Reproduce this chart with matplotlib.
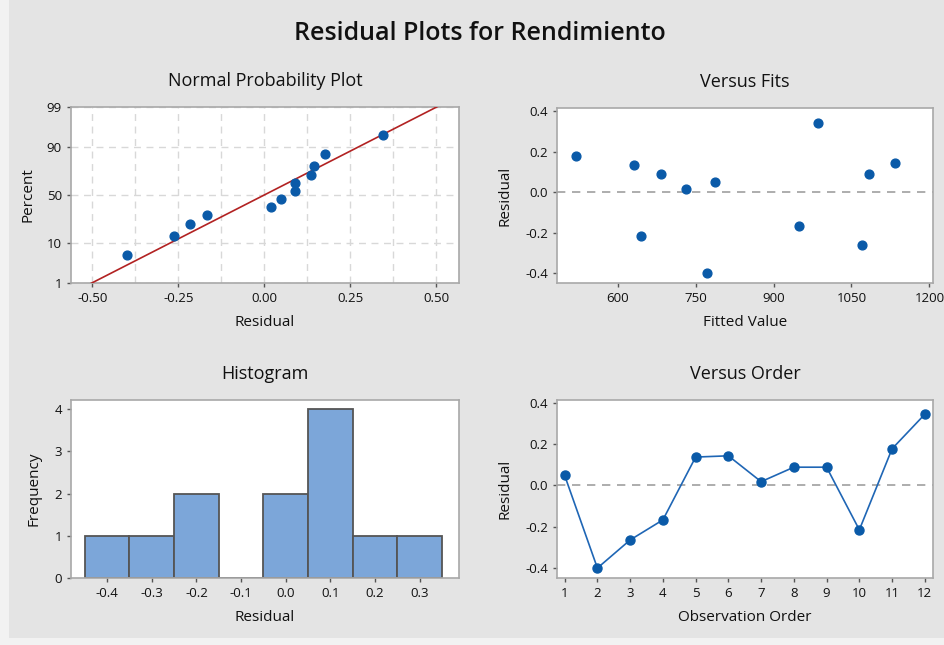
import matplotlib
matplotlib.use("Agg")
import matplotlib.pyplot as plt
from matplotlib.patches import Rectangle
from matplotlib.ticker import MultipleLocator
from statistics import NormalDist
import numpy as np

plt.rcParams['font.family'] = ['Open Sans', 'DejaVu Sans']

# residuals by observation order
observation = list(range(1, 13))
residuals = [0.048, -0.40, -0.264, -0.167, 0.137, 0.143, 0.018, 0.088, 0.088, -0.215, 0.177, 0.344]
fitted = [788, 772, 1070, 949, 631, 1133, 731, 683, 1083, 645, 520, 985]

prob_ticks = [1, 10, 50, 90, 99]
hist_edges = [-0.45, -0.35, -0.25, -0.15, -0.05, 0.05, 0.15, 0.25, 0.35]
hist_ticks = [-0.4, -0.3, -0.2, -0.1, 0.0, 0.1, 0.2, 0.3]

BG = '#e4e4e4'
DOT = '#0a5aa8'
FRAME = '#a8a8a8'
TXT = '#111111'

W, H = 944, 645
fig = plt.figure(figsize=(W / 100, H / 100), dpi=100, facecolor='#f2f2f2')
fig.patches.append(Rectangle((9 / W, 1 - 638 / H), 1, 638 / H, transform=fig.transFigure,
                             facecolor=BG, edgecolor='none', zorder=-5))


def box(l, t, r, b):
    return fig.add_axes([l / W, 1 - b / H, (r - l) / W, (b - t) / H])


def style(ax):
    ax.set_facecolor('white')
    for s in ax.spines.values():
        s.set_color(FRAME)
        s.set_linewidth(1.2)
    ax.tick_params(colors='#555555', labelcolor=TXT, labelsize=9.5, length=3, width=1)
    ax.tick_params(which='minor', length=0)


fig.text(480 / W, 1 - 33 / H, 'Residual Plots for Rendimiento', ha='center', va='center',
         fontsize=18, color=TXT, fontweight='semibold')

tkw = dict(fontsize=13, color=TXT, pad=15)
lkw = dict(fontsize=11, color=TXT)

# Normal probability plot
ax1 = box(71, 107, 459, 283)
nd = NormalDist()
n = len(residuals)
srt = np.sort(residuals)
pct = [(i + 1 - 0.3) / (n + 0.4) for i in range(n)]
zs = [nd.inv_cdf(p) for p in pct]
mu = np.mean(residuals)
sd = np.std(residuals, ddof=1)
zlim = nd.inv_cdf(0.99)
zline = np.array([-zlim - 0.5, zlim + 0.5])
ax1.plot(mu + sd * zline, zline, color='#b22222', lw=1.2, zorder=3)
ax1.scatter(srt, zs, s=40, color=DOT, zorder=4)
ax1.set_ylim(-zlim, zlim)
ax1.set_xlim(-0.562, 0.566)
ax1.set_yticks([nd.inv_cdf(p / 100) for p in prob_ticks])
ax1.set_yticklabels([str(p) for p in prob_ticks])
ax1.set_xticks([-0.5, -0.25, 0, 0.25, 0.5])
ax1.set_xticklabels(['-0.50', '-0.25', '0.00', '0.25', '0.50'])
ax1.xaxis.set_minor_locator(MultipleLocator(0.125))
ax1.grid(True, which='both', axis='x', color='#d8d8d8', ls=(0, (5, 4)), lw=1)
ax1.grid(True, which='major', axis='y', color='#d8d8d8', ls=(0, (5, 4)), lw=1)
ax1.set_axisbelow(True)
ax1.set_xlabel('Residual', labelpad=7, **lkw)
ax1.set_ylabel('Percent', labelpad=8, **lkw)
ax1.set_title('Normal Probability Plot', **tkw)
style(ax1)

# Versus fits
ax2 = box(557, 108, 933, 283)
ax2.axhline(0, color='#a0a0a0', ls=(0, (5, 4)), lw=1.2, zorder=1)
ax2.scatter(fitted, residuals, s=40, color=DOT, zorder=3)
ax2.set_xlim(483, 1207)
ax2.set_ylim(-0.45, 0.417)
ax2.set_xticks([600, 750, 900, 1050, 1200])
ax2.set_yticks([-0.4, -0.2, 0.0, 0.2, 0.4])
ax2.set_yticklabels(['-0.4', '-0.2', '0.0', '0.2', '0.4'])
ax2.set_xlabel('Fitted Value', labelpad=7, **lkw)
ax2.set_ylabel('Residual', labelpad=9, **lkw)
ax2.set_title('Versus Fits', **tkw)
style(ax2)

# Histogram
ax3 = box(71, 400, 459, 578)
ax3.hist(residuals, bins=hist_edges, color='#7ca6d9', edgecolor='#555555', linewidth=1.3, zorder=2)
ax3.set_xlim(-0.481, 0.388)
ax3.set_ylim(0, 4.22)
ax3.set_xticks(hist_ticks)
ax3.set_xticklabels(['%.1f' % v for v in hist_ticks])
ax3.set_yticks([0, 1, 2, 3, 4])
ax3.set_xlabel('Residual', labelpad=7, **lkw)
ax3.set_ylabel('Frequency', labelpad=9, **lkw)
ax3.set_title('Histogram', **tkw)
style(ax3)

# Versus order
ax4 = box(557, 400, 933, 578)
ax4.axhline(0, color='#a0a0a0', ls=(0, (5, 4)), lw=1.2, zorder=1)
ax4.plot(observation, residuals, color='#1f66b5', lw=1.2, marker='o', ms=6.5,
         markerfacecolor=DOT, markeredgecolor=DOT, zorder=3)
ax4.set_xlim(0.766, 12.25)
ax4.set_ylim(-0.448, 0.413)
ax4.set_xticks(observation)
ax4.set_yticks([-0.4, -0.2, 0.0, 0.2, 0.4])
ax4.set_yticklabels(['-0.4', '-0.2', '0.0', '0.2', '0.4'])
ax4.set_xlabel('Observation Order', labelpad=7, **lkw)
ax4.set_ylabel('Residual', labelpad=9, **lkw)
ax4.set_title('Versus Order', **tkw)
style(ax4)

fig.savefig('out.png', dpi=100, facecolor=fig.get_facecolor())
